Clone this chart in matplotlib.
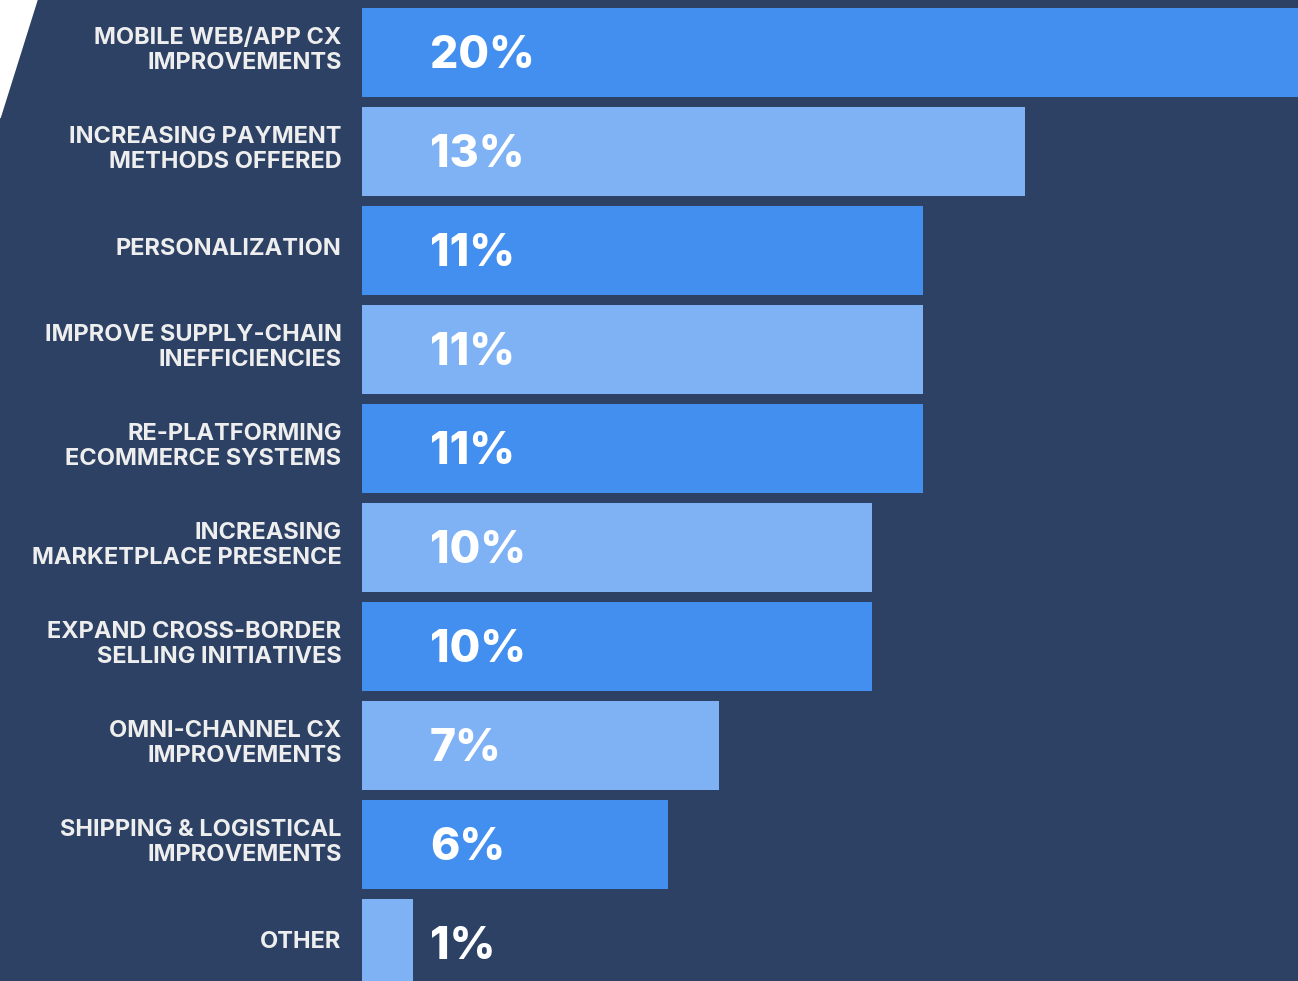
import matplotlib.pyplot as plt
from matplotlib.patches import Polygon

categories = [
    "MOBILE WEB/APP CX\nIMPROVEMENTS",
    "INCREASING PAYMENT\nMETHODS OFFERED",
    "PERSONALIZATION",
    "IMPROVE SUPPLY-CHAIN\nINEFFICIENCIES",
    "RE-PLATFORMING\nECOMMERCE SYSTEMS",
    "INCREASING\nMARKETPLACE PRESENCE",
    "EXPAND CROSS-BORDER\nSELLING INITIATIVES",
    "OMNI-CHANNEL CX\nIMPROVEMENTS",
    "SHIPPING & LOGISTICAL\nIMPROVEMENTS",
    "OTHER",
]
values = [20, 13, 11, 11, 11, 10, 10, 7, 6, 1]

bg = '#2C4164'
dark = '#428FF0'
light = '#7FB2F5'

W, H = 1298, 981
px_per_pct = 51.0
x0_px = 362
pitch = 99.0
c0_px = 52.5

fig = plt.figure(figsize=(W / 100, H / 100), dpi=100)
fig.patch.set_facecolor('white')
ax = fig.add_axes([0, 0, 1, 1])
ax.set_facecolor(bg)

ypos = list(range(len(values)))
colors = [dark if i % 2 == 0 else light for i in ypos]
ax.barh(ypos, values, height=0.9, color=colors, zorder=2)

ax.set_xlim(-x0_px / px_per_pct, (W - x0_px) / px_per_pct)
ax.set_ylim((H - c0_px) / pitch, -c0_px / pitch)
ax.axis('off')
ax.add_patch(plt.Rectangle((0, 0), 1, 1, transform=ax.transAxes, color=bg, zorder=0))

# white corner cut at the top left
ax.add_patch(Polygon([(0, 1), (37 / W, 1), (0, 1 - 118 / H)], closed=True,
                     transform=ax.transAxes, color='white', zorder=1))

for y, (cat, v) in enumerate(zip(categories, values)):
    ax.text(-0.4, y - 0.02, cat, ha='right', va='center', color='#EEEEEE',
            fontsize=17, fontweight='bold', family='Inter', linespacing=1.15, zorder=3)
    tx = 68 / px_per_pct
    ax.text(tx, y + 0.04, f"{v}%", ha='left', va='center', color='white',
            fontsize=32, fontweight='heavy', family='Inter', zorder=3)

fig.savefig('out.png', dpi=100, facecolor=fig.get_facecolor())
